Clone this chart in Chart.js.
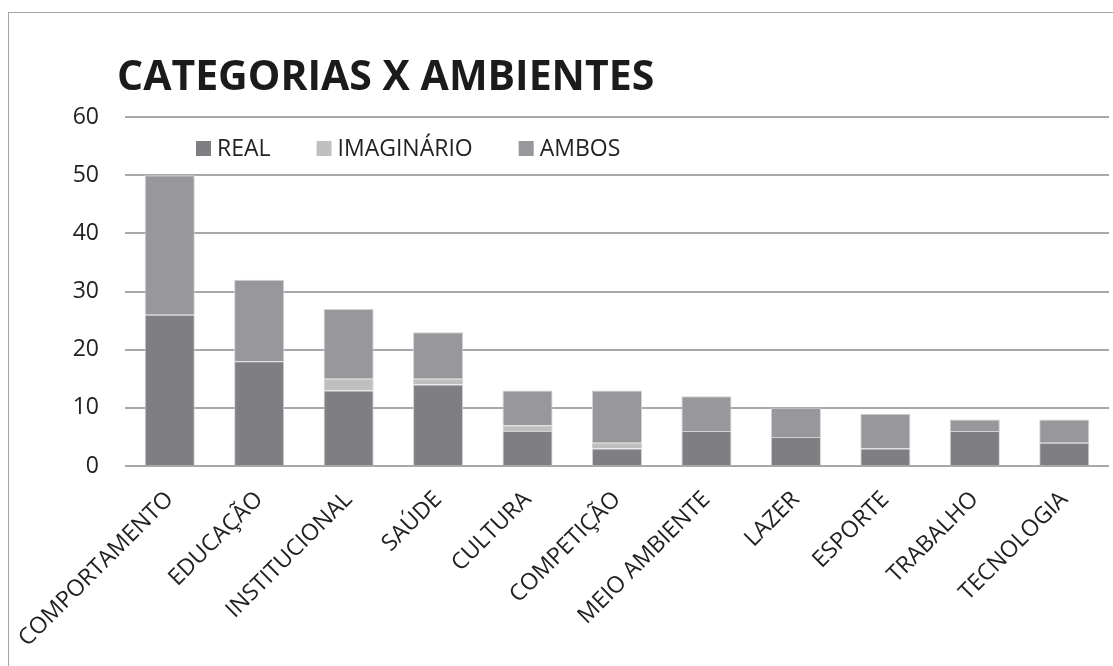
<!DOCTYPE html>
<html>
<head>
<meta charset="utf-8">
<title>Categorias x Ambientes</title>
<script src="https://cdn.jsdelivr.net/npm/chart.js@4/dist/chart.umd.min.js"></script>
<style>
  html, body { margin: 0; padding: 0; background: #fff; overflow: hidden; }
  .frame { position: absolute; left: 8px; top: 12px; width: 1300px; height: 900px; border: 1px solid #a3a3a3; }
  #chart { position: absolute; left: 0; top: 0; }
</style>
</head>
<body>
<div class="frame"></div>
<canvas id="chart" width="1113" height="666"></canvas>
<script>
"use strict";
var categorias = ["COMPORTAMENTO", "EDUCAÇÃO", "INSTITUCIONAL", "SAÚDE", "CULTURA", "COMPETIÇÃO",
    "MEIO AMBIENTE", "LAZER", "ESPORTE", "TRABALHO", "TECNOLOGIA"];
var real = [26, 18, 13, 14, 6, 3, 6, 5, 3, 6, 4];
var imaginario = [0, 0, 2, 1, 1, 1, 0, 0, 0, 0, 0];
var ambos = [24, 14, 12, 8, 6, 9, 6, 5, 6, 2, 4];
var yTicks = [0, 10, 20, 30, 40, 50, 60];

var fonte = "'Open Sans', 'Noto Sans', sans-serif";

// title and legend drawn at fixed spots inside the frame
var tituloLegenda = {
    id: "tituloLegenda",
    afterDraw: function (chart) {
        var ctx = chart.ctx;
        ctx.save();
        ctx.fillStyle = "#1b1b1b";
        ctx.font = "bold 41px " + fonte;
        ctx.textBaseline = "alphabetic";
        ctx.textAlign = "left";
        ctx.fillText("CATEGORIAS X AMBIENTES", 117, 90);

        ctx.font = "23px " + fonte;
        ctx.textBaseline = "middle";
        var x = 196, y = 148;
        chart.data.datasets.forEach(function (ds) {
            ctx.fillStyle = ds.backgroundColor;
            ctx.fillRect(x, y - 7, 15, 15);
            ctx.fillStyle = "#222";
            ctx.fillText(ds.label, x + 21, y + 1);
            x += 21 + ctx.measureText(ds.label).width + 46;
        });
        ctx.restore();
    }
};

var chart = new Chart(document.getElementById("chart"), {
    type: "bar",
    data: {
        labels: categorias,
        datasets: [
            { label: "REAL", data: real, backgroundColor: "#7f7f83" },
            { label: "IMAGINÁRIO", data: imaginario, backgroundColor: "#bfbfc0" },
            { label: "AMBOS", data: ambos, backgroundColor: "#98989c" }
        ]
    },
    options: {
        responsive: false,
        animation: false,
        layout: { padding: { top: 117, right: 4, left: 0, bottom: 0 } },
        datasets: {
            bar: {
                categoryPercentage: 1,
                barPercentage: 0.56,
                borderWidth: 1,
                borderColor: "#d2d2d4"
            }
        },
        plugins: {
            legend: { display: false },
            title: { display: false },
            tooltip: { enabled: false }
        },
        scales: {
            x: {
                stacked: true,
                grid: { display: false },
                border: { display: false },
                ticks: {
                    autoSkip: false,
                    minRotation: 45,
                    maxRotation: 45,
                    padding: 12,
                    color: "#222",
                    font: { family: fonte, size: 23 }
                },
                afterFit: function (scale) { scale.height = 200; }
            },
            y: {
                stacked: true,
                min: 0,
                max: 60,
                afterBuildTicks: function (scale) {
                    scale.ticks = yTicks.map(function (v) { return { value: v }; });
                },
                grid: { color: "#a8a8ac", lineWidth: 2, drawTicks: false },
                border: { display: false },
                ticks: {
                    padding: 26,
                    color: "#222",
                    font: { family: fonte, size: 23 }
                },
                afterFit: function (scale) { scale.width = 125; }
            }
        }
    },
    plugins: [tituloLegenda]
});
</script>
</body>
</html>
